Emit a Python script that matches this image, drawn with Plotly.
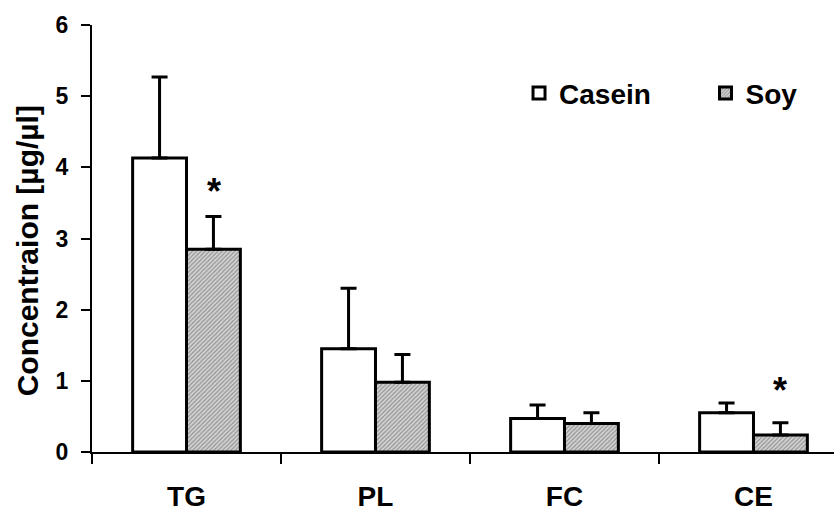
import plotly.graph_objects as go

categories = ["TG", "PL", "FC", "CE"]
casein_values = [4.13, 1.45, 0.47, 0.55]
casein_errors = [1.14, 0.85, 0.19, 0.14]
soy_values = [2.85, 0.98, 0.40, 0.24]
soy_errors = [0.46, 0.39, 0.15, 0.17]
# significance markers (category, y position of asterisk)
star_categories = ["TG", "CE"]
star_y = [3.66, 0.86]
y_ticks = [0, 1, 2, 3, 4, 5, 6]

FONT = "Liberation Sans, Arial, sans-serif"

fig = go.Figure()
fig.add_trace(go.Bar(
    name="<b>Casein</b>", x=categories, y=casein_values, legend="legend",
    marker=dict(color="white", line=dict(color="black", width=3)),
    error_y=dict(type="data", symmetric=False, array=casein_errors,
                 arrayminus=[0] * len(casein_errors),
                 color="black", thickness=3, width=8),
))
fig.add_trace(go.Bar(
    name="<b>Soy</b>", x=categories, y=soy_values, legend="legend2",
    marker=dict(color="#b0b0b0", line=dict(color="black", width=3),
                pattern=dict(shape="/", fgcolor="#505050", bgcolor="#d4d4d4",
                             size=3, solidity=0.4)),
    error_y=dict(type="data", symmetric=False, array=soy_errors,
                 arrayminus=[0] * len(soy_errors),
                 color="black", thickness=3, width=8),
))

for c, yv in zip(star_categories, star_y):
    fig.add_annotation(x=c, y=yv, xref="x", yref="y", text="<b>*</b>",
                       showarrow=False, xshift=27,
                       font=dict(family=FONT, size=36, color="black"))

fig.add_annotation(text="<b>Concentraion [µg/µl]</b>", textangle=-90,
                   xref="paper", yref="y", x=0, y=2.82, xshift=-65,
                   xanchor="center", yanchor="middle", showarrow=False,
                   font=dict(family=FONT, size=30, color="black"))

legend_common = dict(orientation="h", yanchor="middle", xanchor="left",
                     font=dict(family=FONT, size=28, color="black"),
                     bgcolor="rgba(0,0,0,0)", borderwidth=0)

fig.update_layout(
    width=834, height=513,
    margin=dict(l=92, r=0, t=25, b=61, autoexpand=False),
    paper_bgcolor="white", plot_bgcolor="white",
    barmode="group", bargap=0.43, bargroupgap=0,
    showlegend=True,
    legend=dict(x=0.5755, y=0.84, **legend_common),
    legend2=dict(x=0.8268, y=0.84, **legend_common),
    font=dict(family=FONT, color="black"),
)
fig.update_xaxes(
    type="category", range=[-0.5, 3.426], automargin=False,
    showline=True, linecolor="black", linewidth=2,
    ticks="outside", tickson="boundaries", ticklen=10, tickwidth=2, tickcolor="black",
    tickfont=dict(family=FONT, size=28, color="black"),
    tickprefix="<b>", ticksuffix="</b>",
    ticklabelstandoff=18,
    showgrid=False, zeroline=False,
)
fig.update_yaxes(
    range=[0, 6], tickvals=y_ticks, automargin=False,
    ticktext=["<b>%d</b>" % v for v in y_ticks],
    showline=True, linecolor="black", linewidth=2,
    ticks="outside", ticklen=9, tickwidth=2, tickcolor="black",
    tickfont=dict(family=FONT, size=23, color="black"),
    ticklabelstandoff=8,
    showgrid=False, zeroline=False,
)

fig.write_html(
    "out.html",
    config={"displayModeBar": False},
    post_script="document.body.style.margin='0';document.body.style.overflow='hidden';",
)
